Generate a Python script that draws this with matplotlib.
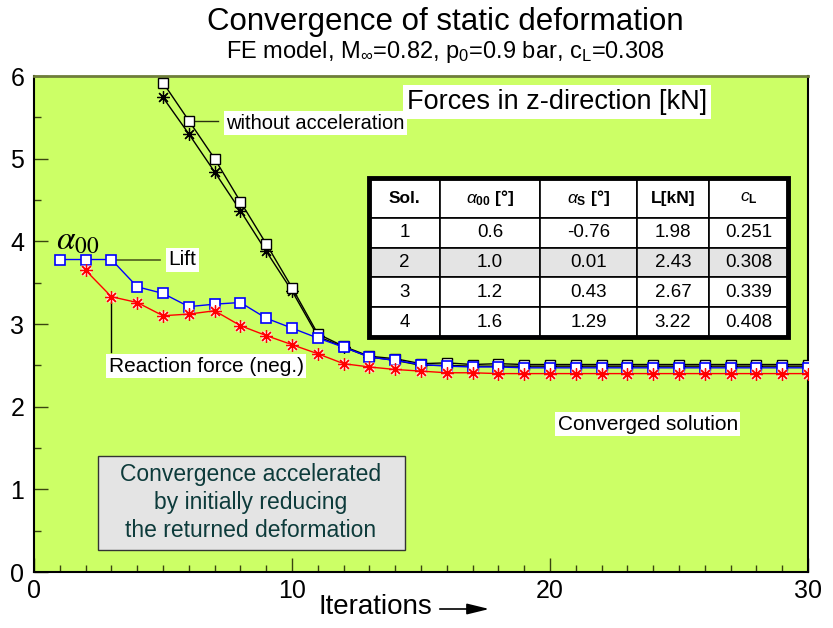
import matplotlib
matplotlib.use('Agg')
import matplotlib.pyplot as plt
from matplotlib import font_manager
from matplotlib.patches import Rectangle

names = {f.name for f in font_manager.fontManager.ttflist}
NARROW = 'Liberation Sans Narrow' if 'Liberation Sans Narrow' in names else 'Liberation Sans'

plt.rcParams['font.family'] = [NARROW, 'DejaVu Sans']
plt.rcParams['mathtext.fontset'] = 'custom'
plt.rcParams['mathtext.rm'] = NARROW
plt.rcParams['mathtext.it'] = NARROW + ':italic'
plt.rcParams['mathtext.bf'] = 'Liberation Sans:bold'

# with accelerated convergence
iters = list(range(1, 31))
lift = [3.78, 3.78, 3.78, 3.45, 3.37, 3.21, 3.24, 3.26, 3.07, 2.95,
        2.83, 2.72, 2.60, 2.56, 2.51, 2.49, 2.48, 2.48, 2.47, 2.47,
        2.47, 2.47, 2.47, 2.47, 2.47, 2.47, 2.47, 2.47, 2.47, 2.47]
iters_react = list(range(2, 31))
reaction = [3.65, 3.33, 3.26, 3.10, 3.12, 3.16, 2.98, 2.86, 2.75,
            2.64, 2.52, 2.48, 2.45, 2.43, 2.41, 2.41, 2.40, 2.40, 2.40,
            2.40, 2.40, 2.40, 2.40, 2.40, 2.40, 2.40, 2.40, 2.40, 2.40]

# without acceleration
iters_wo = list(range(5, 31))
lift_wo = [5.92, 5.46, 5.00, 4.48, 3.97, 3.44, 2.88, 2.73, 2.61, 2.58,
           2.52, 2.53, 2.51, 2.52, 2.51, 2.51, 2.51, 2.51, 2.51, 2.51,
           2.51, 2.51, 2.51, 2.51, 2.51, 2.51]
reaction_wo = [5.74, 5.30, 4.84, 4.37, 3.88, 3.40, 2.85, 2.72, 2.60, 2.56,
               2.50, 2.50, 2.49, 2.49, 2.49, 2.49, 2.49, 2.49, 2.49, 2.49,
               2.49, 2.49, 2.49, 2.49, 2.49, 2.49]

# table
col_labels = ['Sol.', r'$\alpha_\mathbf{00}$ [°]', r'$\alpha_\mathbf{S}$ [°]', 'L[kN]', r'$\mathit{c}_\mathbf{L}$']
sol = ['1', '2', '3', '4']
alpha00 = ['0.6', '1.0', '1.2', '1.6']
alpha_s = ['-0.76', '0.01', '0.43', '1.29']
lift_kn = ['1.98', '2.43', '2.67', '3.22']
c_l = ['0.251', '0.308', '0.339', '0.408']

fig = plt.figure(figsize=(8.33, 6.28), dpi=100)
ax = fig.add_axes([34/833, 1-572/628, 774/833, 496/628])
ax.set_facecolor('#ccff66')
ax.set_xlim(0, 30)
ax.set_ylim(0, 6)

ax.set_xticks([0, 10, 20, 30])
ax.set_xticks(range(31), minor=True)
ax.set_yticks(range(7))
ax.set_yticks([i + 0.5 for i in range(6)], minor=True)
ax.tick_params(which='both', direction='in', color='#3a4410', labelsize=18, pad=5)
ax.tick_params(axis='y', pad=7)
ax.tick_params(which='major', length=10, width=1)
ax.tick_params(which='minor', length=5, width=1)
for s in ['left', 'bottom', 'right']:
    ax.spines[s].set_color('black')
    ax.spines[s].set_linewidth(1.5)
ax.spines['top'].set_color('#6e7d3a')
ax.spines['top'].set_linewidth(2)

ax.plot(iters_wo, reaction_wo, color='black', lw=1, marker=(8, 2, 0), ms=9, mec='black', mew=0.9, zorder=3)
ax.plot(iters_wo, lift_wo, color='black', lw=1, marker='s', ms=7.5, mfc='white', mec='black', mew=1, zorder=4)
ax.plot(iters, lift, color='blue', lw=1, marker='s', ms=7.5, mfc='white', mec='blue', mew=1.2, zorder=5)
ax.plot(iters_react, reaction, ls='none', marker='s', ms=7, mfc='#ffe0e0', mec='none', zorder=5.5)
ax.plot(iters_react, reaction, color='red', lw=1, marker=(8, 2, 0), ms=9, mec='red', mew=0.9, zorder=6)

# leader lines
ax.plot([6, 7.15], [5.46, 5.46], color='#2a3010', lw=1, zorder=2)
ax.plot([3, 4.9], [3.78, 3.78], color='#4d5c1f', lw=1.2, zorder=2)
ax.plot([3, 3], [3.33, 2.66], color='black', lw=1, zorder=2)

box = dict(boxstyle='square,pad=0.12', fc='white', ec='none')
ax.text(20.27, 5.69, 'Forces in z-direction [kN]', fontsize=19.5, ha='center', va='center',
        bbox=dict(boxstyle='square,pad=0.15', fc='white', ec='none'), zorder=7)
ax.text(7.45, 5.43, 'without acceleration', fontsize=14.5, ha='left', va='center', bbox=box, zorder=7)
ax.text(5.2, 3.78, 'Lift', fontsize=15, ha='left', va='center', bbox=box, zorder=7)
ax.text(2.9, 2.49, 'Reaction force (neg.)', fontsize=15, ha='left', va='center', bbox=box, zorder=7)
ax.text(20.3, 1.79, 'Converged solution', fontsize=15, ha='left', va='center', bbox=box, zorder=7)
ax.text(0.85, 4.0, r'$\alpha_{00}$', fontsize=24, math_fontfamily='stix', ha='left', va='center', zorder=7)

ax.text(8.41, 0.84, 'Convergence accelerated\nby initially reducing\nthe returned deformation',
        family='Liberation Sans', fontsize=16.5, color='#0d3b3b', ha='center', va='center',
        linespacing=1.3, zorder=7)
ax.add_patch(Rectangle((2.48, 0.27), 11.9, 1.13, fc='#e4e4e4', ec='#333333', lw=1, zorder=6.5))

# table
rows = [list(r) for r in zip(sol, alpha00, alpha_s, lift_kn, c_l)]
widths = [71, 100, 97, 72, 79]
widths = [w / sum(widths) for w in widths]
tb = ax.table(cellText=rows, colLabels=col_labels, colWidths=widths, cellLoc='center',
              bbox=[0.433, 0.474, 0.541, 0.32], zorder=8)
tb.auto_set_font_size(False)
for (r, c), cell in tb.get_celld().items():
    cell.set_linewidth(1.2)
    cell.set_edgecolor('black')
    cell.get_text().set_family('Liberation Sans')
    cell.get_text().set_fontsize(13.5)
    if r == 0:
        cell.set_height(cell.get_height() * 40 / 30)
        cell.get_text().set_weight('bold')
        cell.get_text().set_fontsize(12.5)
    elif r == 2:
        cell.set_facecolor('#e4e4e4')
ax.add_patch(Rectangle((0.433, 0.474), 0.541, 0.32, transform=ax.transAxes,
                       fill=False, ec='black', lw=3.5, zorder=9))

fig.text(0.535, 1-22/628, 'Convergence of static deformation', fontsize=22.5, ha='center', va='center')
fig.text(0.535, 1-52/628, r'FE model, M$_\infty$=0.82, p$_0$=0.9 bar, c$_\mathrm{L}$=0.308',
         fontsize=17, ha='center', va='center')
fig.text(375/833, 1-607/628, 'Iterations', fontsize=20, ha='center', va='center')
ax.annotate('', xy=(492/833, 1-609/628), xytext=(437/833, 1-609/628), xycoords='figure fraction',
            arrowprops=dict(arrowstyle='-|>,head_length=0.9,head_width=0.22', color='black', lw=1.2,
                            mutation_scale=15), annotation_clip=False)

fig.savefig('out.png', dpi=100)
